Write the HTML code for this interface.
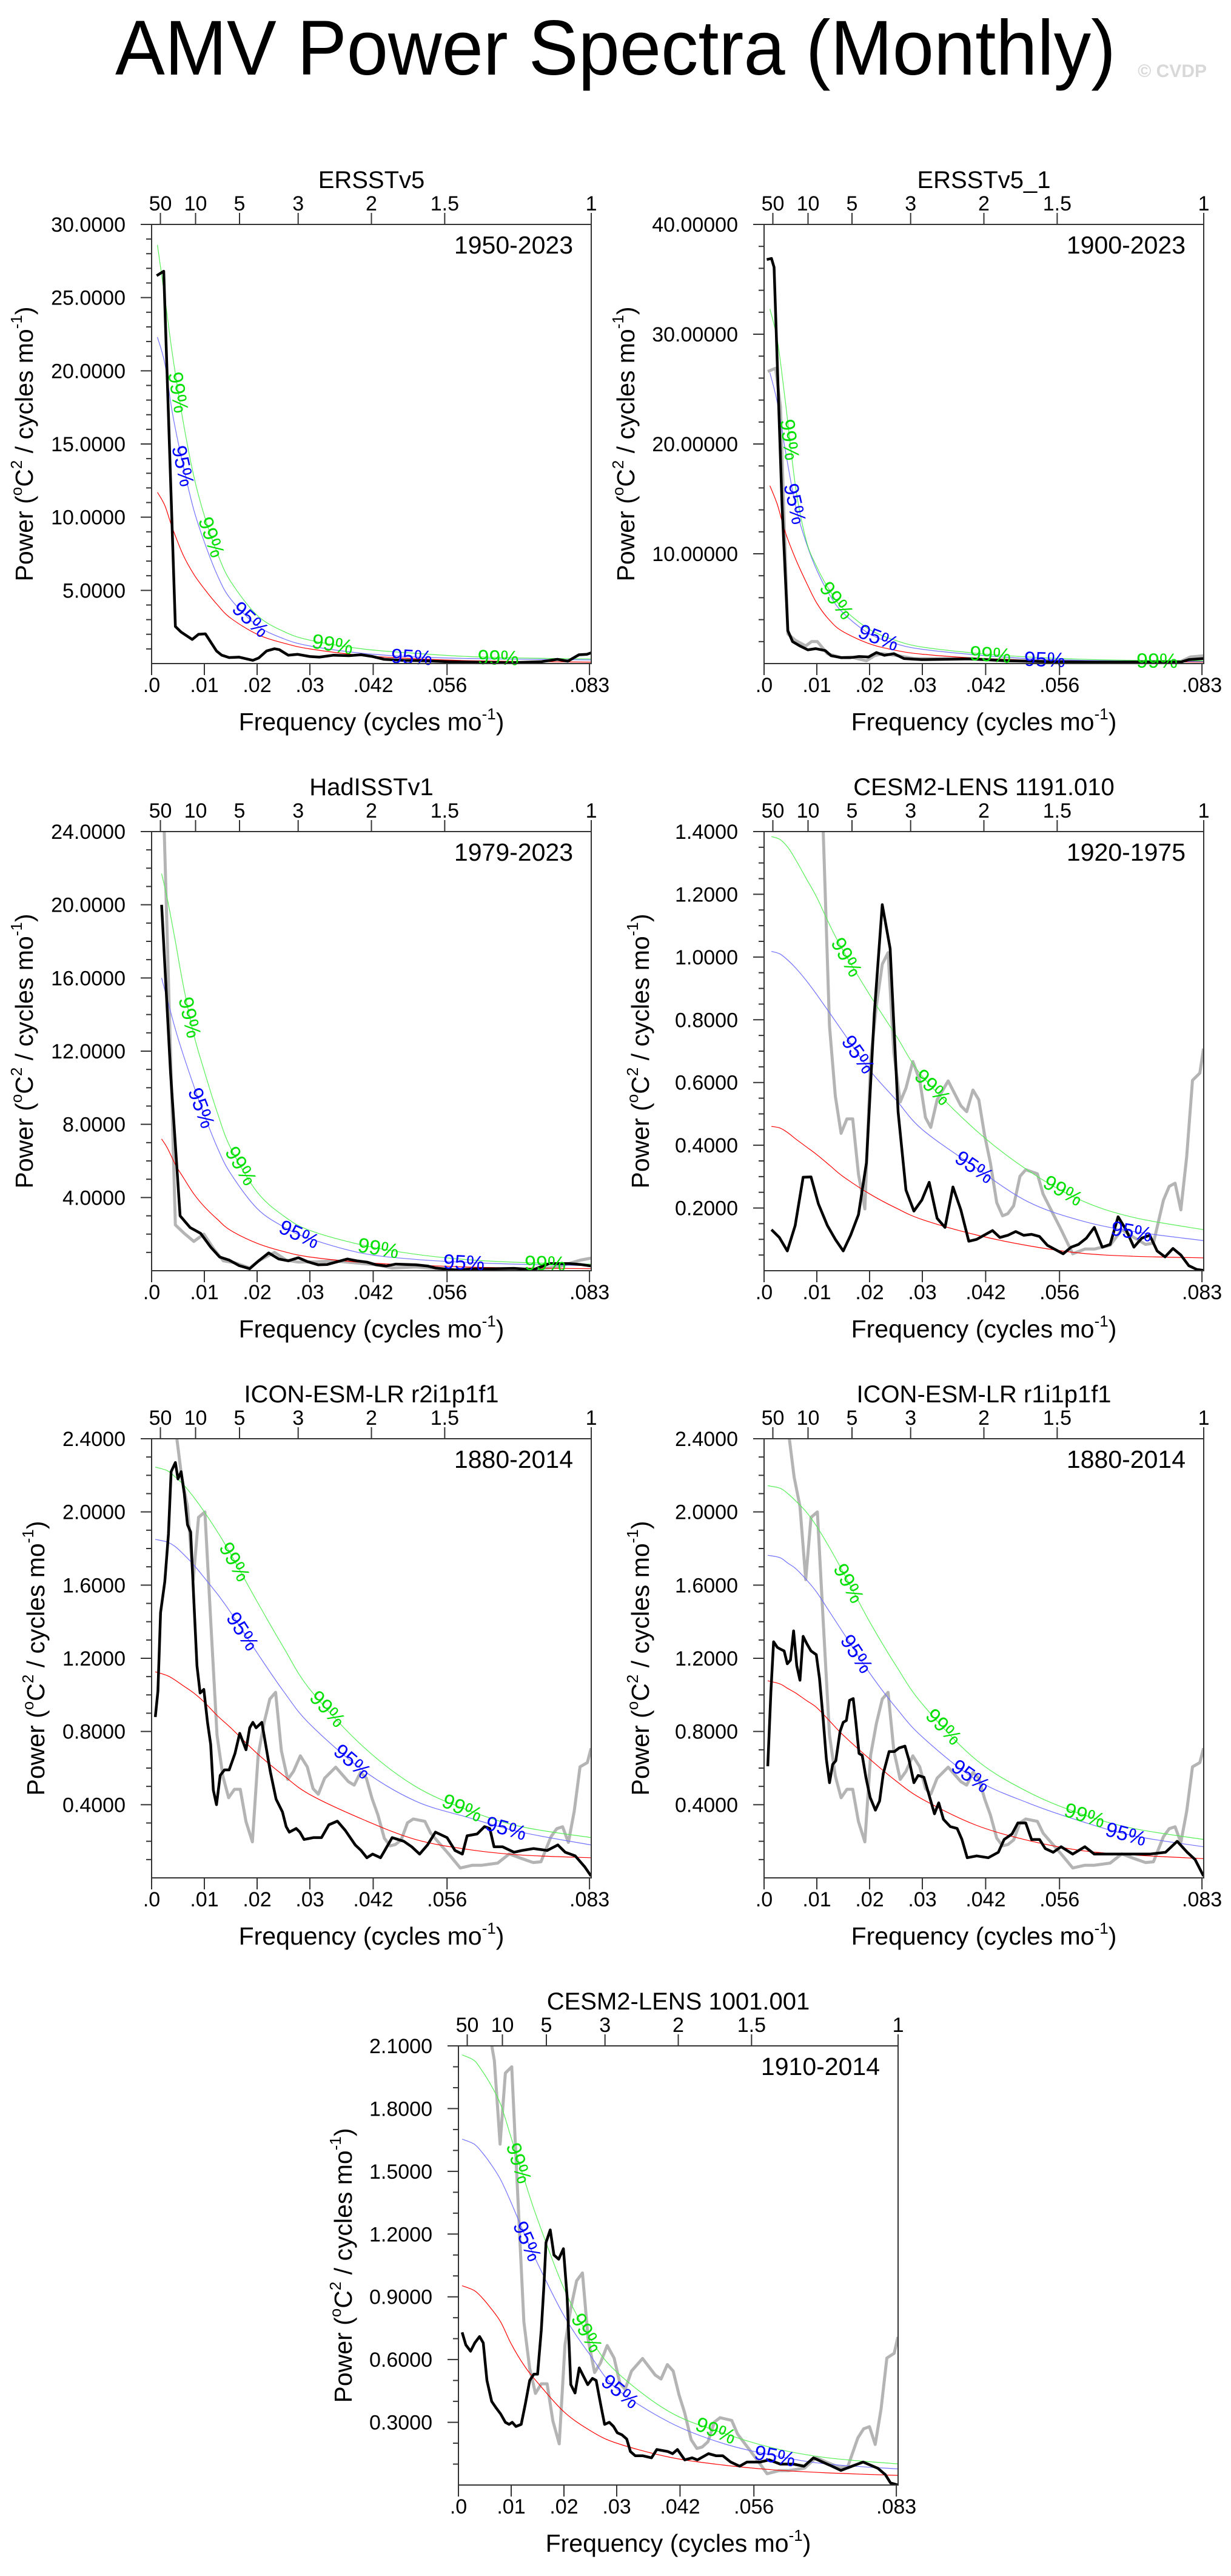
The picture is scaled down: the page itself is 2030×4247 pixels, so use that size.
<!DOCTYPE html>
<html><head><meta charset="utf-8"><title>AMV Power Spectra (Monthly)</title>
<style>html,body{margin:0;padding:0;background:#fff}svg{display:block}text{font-family:"Liberation Sans",sans-serif}</style>
</head><body>
<svg id="fig" xmlns="http://www.w3.org/2000/svg" width="2030" height="4247" viewBox="0 0 2030 4247">
<rect width="2030" height="4247" fill="#fff"/>
<text x="190" y="123" font-size="128" textLength="1650" lengthAdjust="spacingAndGlyphs" fill="#000">AMV Power Spectra (Monthly)</text>
<text x="1990" y="127" font-size="30" text-anchor="end" fill="#d8d8d8" font-weight="bold">© CVDP</text>
</svg>
<script>
// ---------- shared axis data ----------
const bottomTickVals = [0, 0.01, 0.02, 0.03, 0.042, 0.056, 0.083];
const bottomTickLabels = ['.0', '.01', '.02', '.03', '.042', '.056', '.083'];
const topPeriods = [50, 10, 5, 3, 2, 1.5, 1];
const topPeriodLabels = ['50', '10', '5', '3', '2', '1.5', '1'];

// ---------- panel 1: ERSSTv5 ----------
const p1Grid = [.0011,.0025,.004,.006,.008,.01,.0125,.015,.02,.025,.03,.04,.05,.06,.07,.0833];
const p1Red = [11.7,10.8,9.2,7.4,6.1,5.1,4.0,3.1,2.0,1.4,1.0,.55,.33,.2,.14,.1];
const p1Blue = [22.3,20.5,17,13.5,10.5,8.3,6,4.4,2.6,1.7,1.2,.7,.45,.35,.3,.25];
const p1Green = [28.6,25,21,16.5,12.8,10.1,7.5,5.6,3.3,2.2,1.6,1.0,.7,.48,.38,.32];
const p1BlackF = [.00097,.0023,.0045,.0056,.0077,.0089,.0102,.0123,.0133,.0147,.0166,.0192,.0203,.0218,.0233,.0242,.0259,.0277,.03,.0318,.0345,.0374,.0397,.0419,.0441,.0478,.0516,.056,.0605,.068,.0739,.0769,.0789,.081,.0825,.0833];
const p1BlackV = [26.5,26.8,2.53,2.15,1.65,2.0,2.03,.86,.57,.41,.44,.22,.38,.86,1.01,.95,.57,.63,.48,.44,.57,.54,.6,.48,.29,.22,.19,.13,.1,.06,.13,.29,.16,.6,.63,.73];
const p1GreyF = [];
const p1GreyV = [];
const p1Lab99 = [.0051,.0114,.0343,.0657];
const p1Lab95 = [.006,.0188,.0493];

// ---------- panel 2: ERSSTv5_1 ----------
const p2Grid = [.0011,.0025,.004,.006,.008,.01,.0125,.015,.02,.025,.03,.04,.05,.06,.07,.0833];
const p2Red = [16.2,14.5,12,9.5,7.4,5.5,3.9,2.9,1.8,1.2,.85,.5,.3,.22,.17,.14];
const p2Blue = [26.5,23.8,19.5,14.3,11,8.5,6.2,4.6,2.7,1.8,1.3,.8,.45,.3,.23,.18];
const p2Green = [32.3,29.5,24,16,11.2,8.8,6.6,5.0,3.1,2.1,1.5,.95,.6,.4,.3,.25];
const p2BlackF = [.0005,.0014,.0019,.0025,.0034,.0045,.0054,.0068,.0083,.0098,.0116,.0127,.0146,.0164,.018,.0198,.0213,.0228,.0246,.0265,.0299,.035,.0388,.0462,.0537,.0611,.0686,.079,.0805,.0833];
const p2BlackV = [36.8,36.9,36.1,27.3,14.5,3.0,2.0,1.6,1.25,1.36,1.18,.71,.54,.54,.64,.6,1.0,.75,.9,.46,.36,.39,.43,.25,.18,.14,.14,.14,.36,.46];
const p2GreyF = [.0007,.0022,.0031,.0045,.006,.0079,.009,.0101,.012,.0146,.0164,.0194,.0209,.0224,.0254,.0284,.0388,.0537,.0686,.079,.0808,.0833];
const p2GreyV = [26.6,26.9,23.4,2.7,2.1,1.6,2.0,2.0,.9,.54,.6,.25,.71,.9,.71,.46,.43,.18,.14,.2,.6,.7];
const p2Lab99 = [.0049,.0138,.0429,.0745];
const p2Lab95 = [.0059,.0217,.0532];

// ---------- panel 3: HadISSTv1 ----------
const p3Grid = [.0019,.003,.0045,.006,.008,.01,.0125,.015,.02,.025,.03,.04,.05,.06,.07,.0833];
const p3Red = [7.2,6.7,5.8,5.1,4.2,3.5,2.8,2.2,1.5,1.05,.75,.45,.3,.2,.15,.11];
const p3Blue = [16,14.8,13.2,11.8,10.1,8.5,6.7,5.3,3.4,2.4,1.75,.95,.62,.45,.35,.28];
const p3Green = [21.7,20.3,18,15.6,12.9,10.9,8.6,6.7,4.3,3.0,2.2,1.4,.9,.6,.45,.36];
const p3BlackF = [.0019,.0036,.0054,.0073,.0093,.0112,.0129,.0147,.0166,.0186,.0203,.0222,.0241,.0259,.0278,.0296,.0316,.0333,.0352,.0371,.0389,.0408,.0426,.0445,.0463,.0501,.0523,.0538,.0575,.0605,.065,.0687,.0724,.0754,.0791,.0813,.0833];
const p3BlackV = [20.0,10.8,3.0,2.36,2.04,1.29,.75,.58,.28,.11,.54,.97,.64,.54,.71,.49,.32,.34,.49,.64,.54,.47,.32,.26,.36,.32,.26,.15,.04,.09,.11,.13,.06,.39,.39,.34,.26];
const p3GreyF = [.0021,.0045,.0062,.008,.0099,.0118,.0136,.0158,.0186,.0203,.0233,.0255,.0278,.0315,.0345,.0426,.0456,.0501,.0568,.0642,.0717,.077,.0813,.0833];
const p3GreyV = [27,2.5,2.04,1.6,2.0,1.18,.54,.43,.15,.54,1.0,.58,.47,.49,.54,.32,.15,.21,.06,.11,.06,.21,.58,.69];
const p3Lab99 = [.0073,.017,.043,.0746];
const p3Lab95 = [.0095,.028,.0592];

// ---------- shared model-comparison grey spectrum (panels 4-7) ----------
const obsGreyF = [.004,.0047,.0057,.0068,.0079,.0089,.0101,.0112,.0124,.0135,.0146,.0157,.0168,.0179,.0191,.0202,.0213,.0224,.0235,.0246,.0258,.0269,.0282,.0295,.0306,.0316,.0328,.0349,.0373,.0384,.0396,.0407,.0418,.0429,.0441,.0452,.0462,.0473,.0485,.0496,.0518,.0529,.0544,.0563,.0585,.0608,.0626,.0656,.0678,.0701,.0723,.0738,.0757,.0768,.0779,.079,.0801,.0812,.0826,.0833];
const obsGreyV = [2.7,2.42,2.19,2.03,1.63,1.97,2.0,1.41,.78,.557,.438,.484,.484,.307,.197,.67,.845,.977,1.014,.695,.538,.582,.667,.607,.488,.457,.545,.605,.526,.507,.576,.545,.432,.344,.217,.175,.182,.207,.301,.322,.309,.244,.194,.131,.054,.069,.069,.081,.131,.106,.084,.088,.225,.269,.279,.194,.363,.607,.63,.708];

// ---------- panel 4: CESM2-LENS 1191.010 ----------
const p4Grid = [.0014,.003,.0045,.006,.008,.01,.0125,.015,.02,.025,.03,.04,.05,.06,.07,.0833];
const p4Red = [.46,.455,.44,.42,.395,.37,.335,.3,.245,.2,.163,.115,.08,.056,.046,.041];
const p4Blue = [1.018,1.01,.99,.965,.925,.88,.82,.76,.64,.545,.45,.33,.22,.16,.125,.096];
const p4Green = [1.384,1.375,1.35,1.31,1.25,1.19,1.1,1.02,.88,.75,.62,.45,.32,.225,.17,.131];
const p4BlackF = [.0014,.0029,.0044,.0059,.0074,.0089,.0103,.012,.0135,.015,.0164,.0179,.0194,.0209,.0224,.0239,.0254,.0269,.0284,.0299,.0313,.0328,.0343,.0358,.0373,.0388,.0403,.0433,.0447,.0462,.0477,.0492,.0507,.0522,.0537,.0567,.0582,.0596,.0611,.0626,.0641,.0656,.0671,.0686,.0701,.0716,.0731,.0745,.076,.0775,.079,.0805,.082,.0833];
const p4BlackV = [.131,.106,.063,.144,.298,.299,.213,.144,.1,.063,.113,.179,.344,.82,1.167,1.027,.507,.257,.19,.225,.282,.167,.138,.267,.194,.094,.1,.128,.106,.113,.125,.113,.116,.109,.081,.054,.075,.084,.104,.138,.075,.084,.172,.131,.075,.104,.113,.063,.044,.071,.05,.016,.004,.001];
const p4Lab99 = [.0157,.032,.0567];
const p4Lab95 = [.0179,.0399,.0697];

// ---------- panel 5: ICON-ESM-LR r2i1p1f1 ----------
const p5Grid = [.0007,.003,.0045,.006,.008,.01,.0125,.015,.02,.025,.03,.04,.05,.06,.07,.0833];
const p5Red = [1.126,1.105,1.08,1.05,1.01,.96,.885,.82,.68,.56,.455,.32,.21,.155,.125,.11];
const p5Blue = [1.85,1.835,1.81,1.77,1.71,1.64,1.55,1.45,1.23,1.02,.84,.59,.42,.33,.25,.18];
const p5Green = [2.245,2.225,2.19,2.15,2.08,2.0,1.89,1.77,1.51,1.26,1.03,.72,.5,.37,.28,.22];
const p5BlackF = [.0007,.0012,.0017,.0025,.0032,.0037,.0045,.005,.0056,.0062,.0068,.0074,.008,.0086,.0092,.0099,.0106,.0112,.0117,.0123,.013,.0138,.0147,.0158,.0167,.0179,.0186,.0192,.0198,.0209,.0225,.0236,.0248,.0255,.0261,.0274,.0281,.0289,.0307,.0322,.0336,.0352,.0367,.0386,.0397,.0408,.0419,.0434,.0456,.0478,.0493,.0508,.0523,.0538,.056,.0575,.0589,.0598,.0617,.0631,.0641,.0649,.0665,.0687,.0702,.0724,.075,.077,.0784,.0803,.0821,.0833];
const p5BlackV = [.879,1.02,1.45,1.62,1.88,2.22,2.27,2.18,2.22,2.1,1.93,1.89,1.52,1.16,1.01,1.03,.85,.73,.48,.40,.56,.59,.59,.68,.79,.70,.82,.85,.82,.85,.58,.43,.36,.28,.25,.27,.25,.21,.22,.22,.29,.31,.26,.18,.15,.11,.13,.11,.22,.20,.17,.13,.18,.25,.22,.15,.13,.23,.24,.28,.27,.17,.17,.14,.15,.16,.15,.18,.14,.12,.06,.01];
const p5Lab99 = [.0158,.0334,.0589];
const p5Lab95 = [.0173,.0381,.0672];

// ---------- panel 6: ICON-ESM-LR r1i1p1f1 ----------
const p6Grid = [.0007,.003,.0045,.006,.008,.01,.0125,.015,.02,.025,.03,.04,.05,.06,.07,.0833];
const p6Red = [1.077,1.06,1.035,1.01,.97,.93,.855,.78,.65,.53,.43,.29,.205,.15,.125,.105];
const p6Blue = [1.763,1.75,1.72,1.69,1.63,1.56,1.45,1.34,1.12,.93,.77,.54,.41,.31,.23,.17];
const p6Green = [2.143,2.13,2.1,2.06,2.0,1.92,1.8,1.67,1.4,1.16,.95,.65,.47,.35,.27,.21];
const p6BlackF = [.0007,.0013,.0018,.0025,.0031,.0038,.0044,.005,.0056,.0062,.0068,.0074,.0081,.0089,.0099,.0105,.0112,.0118,.0124,.013,.0136,.0144,.015,.0156,.0162,.0169,.0174,.018,.0186,.0193,.0201,.0211,.0219,.0226,.0237,.0247,.0256,.0267,.0275,.0284,.0292,.0303,.0314,.0323,.0331,.034,.0353,.0366,.0375,.0385,.0403,.0425,.0444,.0455,.047,.0481,.0496,.0507,.0522,.0533,.0548,.0563,.0585,.0608,.0626,.0653,.0679,.0708,.0731,.0761,.0783,.0802,.0817,.0833];
const p6BlackV = [.61,1.02,1.29,1.26,1.25,1.24,1.17,1.19,1.35,1.16,1.08,1.32,1.28,1.24,1.22,1.09,.87,.65,.52,.62,.64,.80,.85,.86,.97,.98,.85,.68,.67,.55,.44,.37,.42,.57,.69,.69,.71,.72,.64,.52,.56,.55,.44,.35,.41,.32,.28,.27,.21,.11,.12,.11,.14,.21,.24,.30,.30,.21,.21,.16,.14,.17,.13,.17,.13,.13,.13,.13,.13,.14,.20,.14,.10,.01];
const p6Lab99 = [.0161,.0341,.0608];
const p6Lab95 = [.0176,.0392,.0686];

// ---------- panel 7: CESM2-LENS 1001.001 ----------
const p7Grid = [.0007,.003,.0045,.006,.008,.01,.0125,.015,.02,.025,.03,.04,.05,.06,.07,.0833];
const p7Red = [.953,.93,.895,.85,.78,.675,.57,.49,.35,.26,.2,.133,.096,.072,.058,.046];
const p7Blue = [1.654,1.63,1.59,1.54,1.46,1.35,1.2,1.06,.81,.62,.46,.3,.2,.14,.1,.077];
const p7Green = [2.057,2.03,1.98,1.92,1.82,1.66,1.46,1.27,.94,.7,.54,.35,.25,.175,.13,.101];
const p7BlackF = [.0007,.0014,.0023,.0031,.004,.0047,.0054,.0063,.0071,.008,.0089,.0096,.0102,.0109,.0119,.0127,.0135,.0143,.015,.0157,.0162,.0166,.0174,.0181,.019,.0199,.0206,.0213,.0221,.0229,.0237,.0245,.0254,.0261,.027,.0277,.0286,.0294,.0301,.031,.0319,.0326,.0335,.0349,.0366,.0376,.0397,.0406,.0415,.0429,.0443,.0453,.0474,.0488,.0501,.0516,.0533,.0547,.0572,.0589,.061,.0635,.0655,.0673,.069,.0708,.0725,.0746,.0767,.0795,.0809,.0819,.0833];
const p7BlackV = [.73,.67,.64,.68,.71,.68,.50,.40,.37,.34,.30,.29,.30,.28,.29,.39,.50,.53,.53,.74,.95,1.16,1.22,1.10,1.08,1.13,.90,.48,.44,.56,.52,.48,.51,.50,.38,.29,.30,.28,.25,.24,.22,.16,.14,.14,.13,.17,.16,.15,.17,.12,.13,.12,.15,.14,.14,.11,.09,.11,.11,.12,.10,.10,.09,.13,.11,.09,.07,.09,.11,.08,.05,.01,0];
const p7Lab99 = [.0115,.0244,.0488];
const p7Lab95 = [.0131,.0307,.06];

// ---------- drawing ----------
const NS = 'http://www.w3.org/2000/svg';
const svg = document.getElementById('fig');
const XMAX = 0.08333, W = 725, H = 724;

function mk(tag, attrs, parent) {
  const el = document.createElementNS(NS, tag);
  for (const k in attrs) el.setAttribute(k, attrs[k]);
  parent.appendChild(el);
  return el;
}

function spline(pts) {
  let d = 'M' + pts[0][0].toFixed(1) + ',' + pts[0][1].toFixed(1);
  for (let i = 0; i < pts.length - 1; i++) {
    const p0 = pts[Math.max(0, i - 1)], p1 = pts[i], p2 = pts[i + 1], p3 = pts[Math.min(pts.length - 1, i + 2)];
    const c1x = p1[0] + (p2[0] - p0[0]) / 6, c1y = p1[1] + (p2[1] - p0[1]) / 6;
    const c2x = p2[0] - (p3[0] - p1[0]) / 6, c2y = p2[1] - (p3[1] - p1[1]) / 6;
    d += ' C' + c1x.toFixed(1) + ',' + c1y.toFixed(1) + ' ' + c2x.toFixed(1) + ',' + c2y.toFixed(1) + ' ' + p2[0].toFixed(1) + ',' + p2[1].toFixed(1);
  }
  return d;
}

function drawPanel(cfg, grid, red, blue, green, blackF, blackV, greyF, greyV, lab99, lab95) {
  const L = cfg.left, T = cfg.top, R = L + W, B = T + H;
  const xs = f => L + f / XMAX * W;
  const ys = v => B - v / cfg.ymax * H;
  const g = mk('g', {}, svg);
  
  

  const cid = 'clip-' + cfg.name;
  const cp = mk('clipPath', {id: cid}, g);
  mk('rect', {x: L, y: T, width: W, height: H}, cp);

  const tt = mk('text', {x: L + W / 2, y: T - 60, 'font-size': 40, 'text-anchor': 'middle', fill: '#000'}, g);
  tt.textContent = cfg.title;
  
  
  const yr = mk('text', {x: R - 30, y: T + 48, 'font-size': 41, 'text-anchor': 'end', fill: '#000'}, g);
  yr.textContent = cfg.years;
  
  

  const dg = mk('g', {'clip-path': 'url(#' + cid + ')'}, g);
  
  

  if (greyF.length) {
    const gp = mk('polyline', {points: greyF.map((f, i) => xs(f).toFixed(1) + ',' + ys(greyV[i]).toFixed(1)).join(' '), fill: 'none', stroke: '#b4b4b4', 'stroke-width': 5, 'stroke-linejoin': 'round'}, dg);
    
    
  }
  const curves = [[red, '#ff0000', 'red-noise-line'], [blue, '#7070ff', 'confidence-95-line'], [green, '#55f055', 'confidence-99-line']];
  for (const c of curves) {
    const pts = grid.map((f, i) => [xs(f), ys(c[0][i])]);
    const p = mk('path', {d: spline(pts), fill: 'none', stroke: c[1], 'stroke-width': 1.2}, dg);
    
    
  }
  const bp = mk('polyline', {points: blackF.map((f, i) => xs(f).toFixed(1) + ',' + ys(blackV[i]).toFixed(1)).join(' '), fill: 'none', stroke: '#000', 'stroke-width': 4.5, 'stroke-linejoin': 'round'}, dg);
  
  

  function interp(arr, f) {
    for (let i = 0; i < grid.length - 1; i++) {
      if (f >= grid[i] && f <= grid[i + 1]) {
        const t = (f - grid[i]) / (grid[i + 1] - grid[i]);
        return arr[i] + t * (arr[i + 1] - arr[i]);
      }
    }
    return arr[arr.length - 1];
  }
  function label(arr, f, txt, col) {
    const x = xs(f), y = ys(interp(arr, f));
    const df = 0.0015;
    const x1 = xs(f - df), y1 = ys(interp(arr, Math.max(grid[0], f - df)));
    const x2 = xs(f + df), y2 = ys(interp(arr, Math.min(grid[grid.length - 1], f + df)));
    const ang = Math.atan2(y2 - y1, x2 - x1) * 180 / Math.PI;
    const t = mk('text', {x: x, y: y + 12, 'font-size': 34, 'text-anchor': 'middle', fill: col, transform: 'rotate(' + ang.toFixed(1) + ' ' + x.toFixed(1) + ' ' + y.toFixed(1) + ')'}, g);
    t.textContent = txt;
    
    
  }
  lab99.forEach(f => label(green, f, '99%', '#00e000'));
  lab95.forEach(f => label(blue, f, '95%', '#0000ff'));

  const fr = mk('rect', {x: L, y: T, width: W, height: H, fill: 'none', stroke: '#333', 'stroke-width': 2}, g);
  
  

  bottomTickVals.forEach((v, i) => {
    const x = xs(v);
    mk('line', {x1: x, y1: B, x2: x, y2: B + 19, stroke: '#333', 'stroke-width': 2}, g);
    const t = mk('text', {x: x, y: B + 47, 'font-size': 34, 'text-anchor': 'middle', fill: '#000'}, g);
    t.textContent = bottomTickLabels[i];
    
    
  });
  topPeriods.forEach((p, i) => {
    const x = xs(1 / (12 * p));
    mk('line', {x1: x, y1: T, x2: x, y2: T - 19, stroke: '#333', 'stroke-width': 2}, g);
    const t = mk('text', {x: x, y: T - 23, 'font-size': 34, 'text-anchor': 'middle', fill: '#000'}, g);
    t.textContent = topPeriodLabels[i];
    
    
  });
  const nMinor = Math.round(cfg.ymax / cfg.minor);
  for (let k = 1; k <= nMinor; k++) {
    const v = k * cfg.minor;
    const y = ys(v);
    const isMajor = Math.abs(v / cfg.major - Math.round(v / cfg.major)) < 1e-6;
    mk('line', {x1: L, y1: y, x2: L - (isMajor ? 18 : 9), y2: y, stroke: '#333', 'stroke-width': 2}, g);
    if (isMajor) {
      const t = mk('text', {x: L - 43, y: y + 12, 'font-size': 34, 'text-anchor': 'end', fill: '#000'}, g);
      t.textContent = v.toFixed(cfg.dec);
      
      
    }
  }
  const xt = mk('text', {x: L + W / 2, y: B + 110, 'font-size': 41, 'text-anchor': 'middle', fill: '#000'}, g);
  xt.innerHTML = 'Frequency (cycles mo<tspan font-size="26" dy="-18">-1</tspan><tspan dy="18">)</tspan>';
  
  
  const yx = L + cfg.yto + 15, yy = T + H / 2;
  const yt = mk('text', {x: yx, y: yy, 'font-size': 41, 'text-anchor': 'middle', fill: '#000', transform: 'rotate(-90 ' + yx + ' ' + yy + ')'}, g);
  yt.innerHTML = 'Power (<tspan font-size="26" dy="-18">o</tspan><tspan dy="18">C</tspan><tspan font-size="26" dy="-18">2</tspan><tspan dy="18"> / cycles mo</tspan><tspan font-size="26" dy="-18">-1</tspan><tspan dy="18">)</tspan>';
  
  
}

drawPanel({name: 'panel-ersstv5', left: 250, top: 370, ymax: 30, major: 5, minor: 1, dec: 4, yto: -211, title: 'ERSSTv5', years: '1950-2023'},
  p1Grid, p1Red, p1Blue, p1Green, p1BlackF, p1BlackV, p1GreyF, p1GreyV, p1Lab99, p1Lab95);
drawPanel({name: 'panel-ersstv5-1', left: 1260, top: 370, ymax: 40, major: 10, minor: 2, dec: 5, yto: -229, title: 'ERSSTv5_1', years: '1900-2023'},
  p2Grid, p2Red, p2Blue, p2Green, p2BlackF, p2BlackV, p2GreyF, p2GreyV, p2Lab99, p2Lab95);
drawPanel({name: 'panel-hadisstv1', left: 250, top: 1371, ymax: 24, major: 4, minor: 1, dec: 4, yto: -211, title: 'HadISSTv1', years: '1979-2023'},
  p3Grid, p3Red, p3Blue, p3Green, p3BlackF, p3BlackV, p3GreyF, p3GreyV, p3Lab99, p3Lab95);
drawPanel({name: 'panel-cesm2-lens-1191', left: 1260, top: 1371, ymax: 1.4, major: 0.2, minor: 0.05, dec: 4, yto: -205, title: 'CESM2-LENS 1191.010', years: '1920-1975'},
  p4Grid, p4Red, p4Blue, p4Green, p4BlackF, p4BlackV, obsGreyF, obsGreyV, p4Lab99, p4Lab95);
drawPanel({name: 'panel-icon-r2i1p1f1', left: 250, top: 2372, ymax: 2.4, major: 0.4, minor: 0.1, dec: 4, yto: -192, title: 'ICON-ESM-LR r2i1p1f1', years: '1880-2014'},
  p5Grid, p5Red, p5Blue, p5Green, p5BlackF, p5BlackV, obsGreyF, obsGreyV, p5Lab99, p5Lab95);
drawPanel({name: 'panel-icon-r1i1p1f1', left: 1260, top: 2372, ymax: 2.4, major: 0.4, minor: 0.1, dec: 4, yto: -205, title: 'ICON-ESM-LR r1i1p1f1', years: '1880-2014'},
  p6Grid, p6Red, p6Blue, p6Green, p6BlackF, p6BlackV, obsGreyF, obsGreyV, p6Lab99, p6Lab95);
drawPanel({name: 'panel-cesm2-lens-1001', left: 756, top: 3373, ymax: 2.1, major: 0.3, minor: 0.1, dec: 4, yto: -191, title: 'CESM2-LENS 1001.001', years: '1910-2014'},
  p7Grid, p7Red, p7Blue, p7Green, p7BlackF, p7BlackV, obsGreyF, obsGreyV, p7Lab99, p7Lab95);
</script>
</body></html>
